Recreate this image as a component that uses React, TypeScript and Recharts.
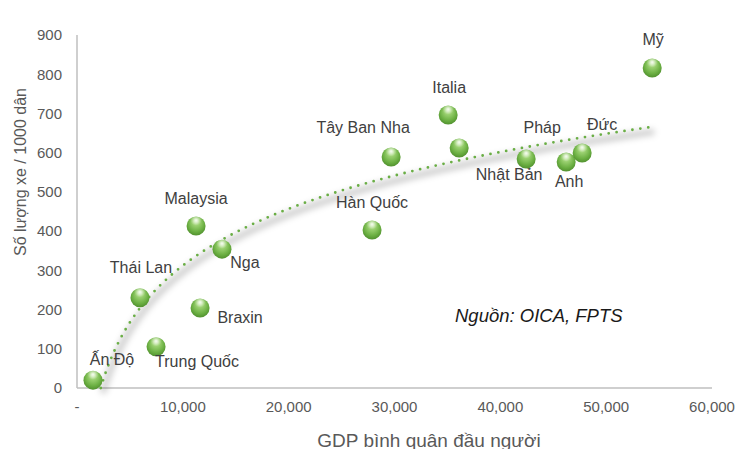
import React from 'react';
import { ScatterChart, Scatter, XAxis, YAxis } from 'recharts';

const countries = ['Ấn Độ', 'Thái Lan', 'Trung Quốc', 'Malaysia', 'Braxin', 'Nga', 'Hàn Quốc', 'Tây Ban Nha', 'Italia', 'Nhật Bản', 'Pháp', 'Anh', 'Đức', 'Mỹ'];
const gdpPerCapita = [1510, 5950, 7470, 11250, 11630, 13700, 27880, 29680, 35070, 36110, 42440, 46220, 47730, 54350];
const carsPer1000 = [20, 230, 105, 413, 204, 354, 403, 589, 696, 612, 584, 576, 599, 816];
const xTicks = [0, 10000, 20000, 30000, 40000, 50000, 60000];
const yTicks = [0, 100, 200, 300, 400, 500, 600, 700, 800, 900];

// label placement (style, not data)
const labelOffsets: Record<string, [number, number]> = {
  'Ấn Độ': [19, -21],
  'Thái Lan': [1, -30],
  'Trung Quốc': [41, 15],
  'Malaysia': [0, -28],
  'Braxin': [40, 10],
  'Nga': [23, 13],
  'Hàn Quốc': [0, -27],
  'Tây Ban Nha': [-28, -29],
  'Italia': [1, -28],
  'Nhật Bản': [50, 27],
  'Pháp': [16, -31],
  'Anh': [3, 19],
  'Đức': [20, -29],
  'Mỹ': [1, -28],
};

const points = countries.map((name, i) => ({ name, x: gdpPerCapita[i], y: carsPer1000[i] }));

// logarithmic least-squares trendline fitted to the data (like Excel's log trendline)
const lnX = gdpPerCapita.map((v) => Math.log(v));
const meanL = lnX.reduce((s, v) => s + v, 0) / lnX.length;
const meanY = carsPer1000.reduce((s, v) => s + v, 0) / carsPer1000.length;
let sxy = 0;
let sxx = 0;
lnX.forEach((l, i) => {
  sxy += (l - meanL) * (carsPer1000[i] - meanY);
  sxx += (l - meanL) * (l - meanL);
});
const slope = sxy / sxx;
const intercept = meanY - slope * meanL;
const xStart = Math.exp(-intercept / slope);
const xEnd = Math.max(...gdpPerCapita);
const N = 120;
const trend = Array.from({ length: N + 1 }, (_, i) => {
  const x = xStart * Math.pow(xEnd / xStart, i / N);
  return { x, y: slope * Math.log(x) + intercept };
});

const FONT = '"Liberation Sans", Arial, sans-serif';

const Ball = (props: any) => {
  const { cx, cy, payload } = props;
  const off = labelOffsets[payload.name] || [0, -28];
  return (
    <g>
      <circle cx={cx} cy={cy} r={9.5} fill="url(#ballGrad)" />
      <circle cx={cx} cy={cy} r={9.5} fill="url(#ballShine)" />
      <text
        x={cx + off[0]}
        y={cy + off[1]}
        textAnchor="middle"
        dominantBaseline="central"
        fontSize={16}
        fontFamily={FONT}
        fill="#404040"
      >
        {payload.name}
      </text>
    </g>
  );
};

const Empty = () => <g />;

const fmtX = (v: number) => (v === 0 ? '-' : v.toLocaleString('en-US'));

export default function App() {
  return (
    <div style={{ position: 'absolute', left: 0, top: 0, width: 751, height: 449, background: '#fff', fontFamily: FONT }}>
      <ScatterChart width={751} height={449} margin={{ top: 35, right: 39, left: 0, bottom: 0 }}>
        <defs>
          <radialGradient id="ballGrad" cx="50%" cy="45%" r="60%" fx="50%" fy="20%">
            <stop offset="0%" stopColor="#dff3cc" />
            <stop offset="30%" stopColor="#9ed374" />
            <stop offset="70%" stopColor="#6cb043" />
            <stop offset="100%" stopColor="#4b8a2a" />
          </radialGradient>
          <radialGradient id="ballShine" cx="50%" cy="18%" r="30%">
            <stop offset="0%" stopColor="#ffffff" stopOpacity={0.7} />
            <stop offset="100%" stopColor="#ffffff" stopOpacity={0} />
          </radialGradient>
          <filter id="trendShadow" x="-10%" y="-20%" width="120%" height="160%">
            <feOffset dx="2" dy="5" />
            <feGaussianBlur stdDeviation="3" />
          </filter>
        </defs>
        <XAxis
          type="number"
          dataKey="x"
          domain={[0, 60000]}
          ticks={xTicks}
          tickFormatter={fmtX}
          axisLine={{ stroke: '#BFBFBF', strokeWidth: 1.5 }}
          tickLine={false}
          tickSize={6}
          tickMargin={7}
          height={61}
          tick={{ fill: '#595959', fontSize: 15, fontFamily: FONT }}
          label={{
            content: (p: any) => (
              <text x={429} y={440} textAnchor="middle" dominantBaseline="central" fontSize={19} fontFamily={FONT} fill="#595959">
                GDP bình quân đầu người
              </text>
            ),
          }}
        />
        <YAxis
          type="number"
          dataKey="y"
          domain={[0, 900]}
          ticks={yTicks}
          axisLine={{ stroke: '#BFBFBF', strokeWidth: 1.5 }}
          tickLine={false}
          tickSize={6}
          tickMargin={9}
          width={77}
          tick={{ fill: '#595959', fontSize: 15, fontFamily: FONT }}
          label={{
            content: (p: any) => (
              <text
                x={20}
                y={172}
                transform="rotate(-90 20 172)"
                textAnchor="middle"
                dominantBaseline="central"
                fontSize={16}
                fontFamily={FONT}
                fill="#595959"
              >
                Số lượng xe / 1000 dân
              </text>
            ),
          }}
        />
        <Scatter
          data={trend}
          shape={Empty}
          line={{ stroke: '#000000', strokeOpacity: 0.2, strokeWidth: 6, filter: 'url(#trendShadow)' }}
          isAnimationActive={false}
        />
        <Scatter
          data={trend}
          shape={Empty}
          line={{ stroke: '#6aae45', strokeWidth: 2.8, strokeDasharray: '0 8', strokeLinecap: 'round' }}
          isAnimationActive={false}
        />
        <Scatter data={points} shape={Ball} isAnimationActive={false} />
      </ScatterChart>
      <div
        style={{
          position: 'absolute',
          left: 455,
          top: 304,
          fontSize: 18.5,
          fontStyle: 'italic',
          color: '#1a1a1a',
          fontFamily: FONT,
          lineHeight: '24px',
          whiteSpace: 'nowrap',
        }}
      >
        Nguồn: OICA, FPTS
      </div>
    </div>
  );
}
